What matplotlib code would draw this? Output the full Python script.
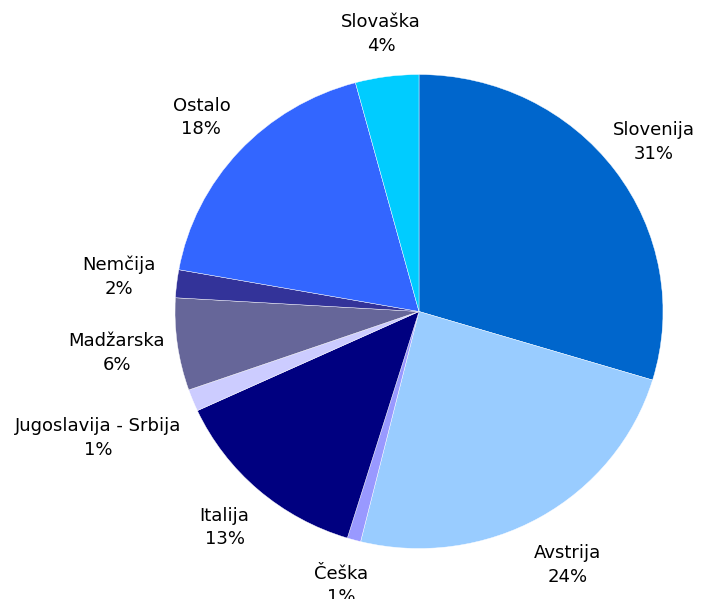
import matplotlib
matplotlib.use('Agg')
import matplotlib.pyplot as plt
import numpy as np

# slices, clockwise from 12 o'clock
countries = ['Slovenija', 'Avstrija', 'Češka', 'Italija', 'Jugoslavija - Srbija',
             'Madžarska', 'Nemčija', 'Ostalo', 'Slovaška']
shares = [29.7, 24.2, 0.9, 13.4, 1.5, 6.3, 1.9, 18.0, 4.2]   # wedge sizes
pct_labels = [31, 24, 1, 13, 1, 6, 2, 18, 4]                  # as printed on the chart
colours = ['#0066CC', '#99CCFF', '#9999FF', '#000080', '#CCCCFF',
           '#666699', '#333399', '#3366FF', '#00CCFF']
# how far out each label sits (in pie radii)
label_dist = [1.20, 1.23, 1.20, 1.21, 1.42, 1.25, 1.24, 1.21, 1.18]

W, H = 707, 599
cx, cy = 419, 311.5      # pie centre in pixels
rx, ry = 244, 237        # the original is a touch squashed

fig = plt.figure(figsize=(W / 100, H / 100), dpi=100)
ax = fig.add_axes([0, 0, 1, 1])

wedges, _ = ax.pie(shares, colors=colours, startangle=90, counterclock=False,
                   wedgeprops=dict(edgecolor='white', linewidth=0.3))

for w, name, p, d in zip(wedges, countries, pct_labels, label_dist):
    mid = np.deg2rad((w.theta1 + w.theta2) / 2)
    ax.text(d * np.cos(mid), d * np.sin(mid), f'{name}\n{p}%',
            ha='center', va='center', fontsize=13, linespacing=1.4,
            family='DejaVu Sans', color='black')

ax.set_aspect('auto')
ax.set_xlim(-cx / rx, (W - cx) / rx)
ax.set_ylim(-(H - cy) / ry, cy / ry)
ax.axis('off')

fig.savefig('out.png', dpi=100, facecolor='white')
